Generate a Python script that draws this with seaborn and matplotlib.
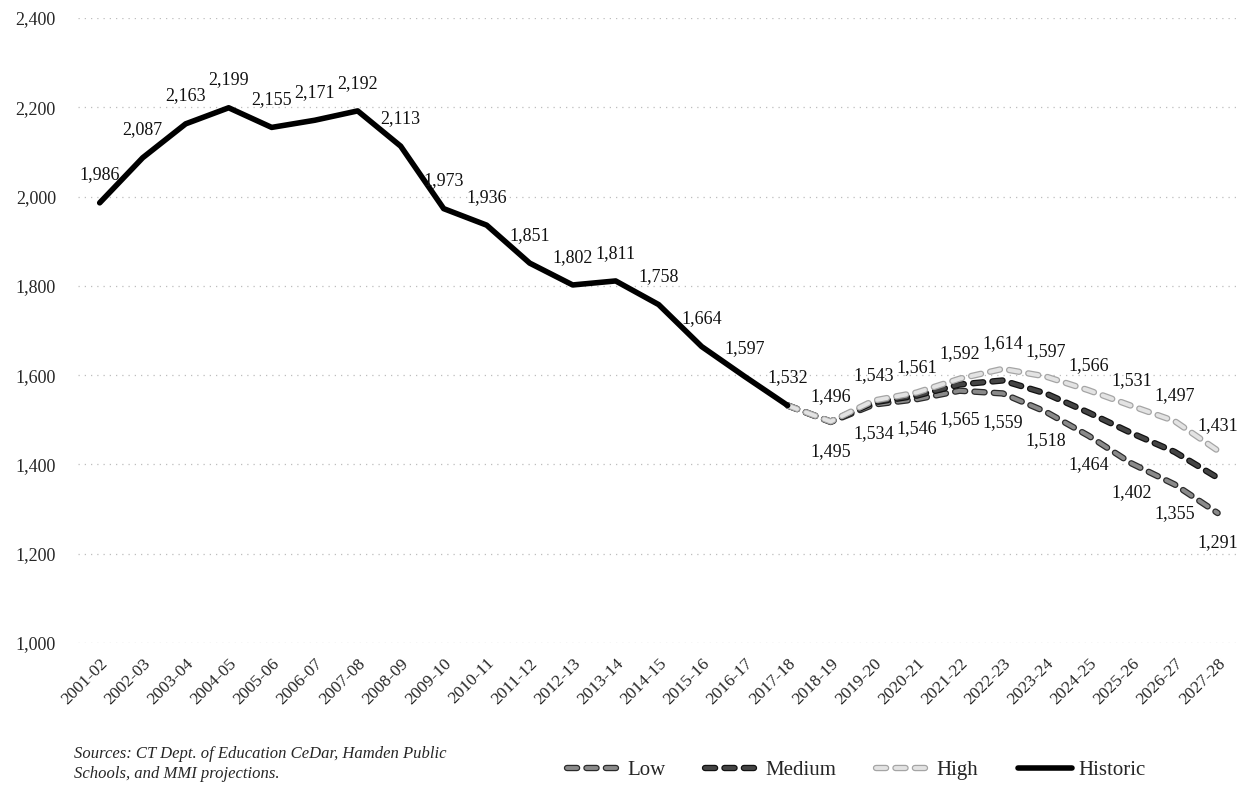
import matplotlib
matplotlib.use("Agg")
import matplotlib.pyplot as plt
import matplotlib.patheffects as pe
import seaborn as sns
import numpy as np
import pandas as pd

# school years on the x axis
years = ["2001-02", "2002-03", "2003-04", "2004-05", "2005-06", "2006-07",
         "2007-08", "2008-09", "2009-10", "2010-11", "2011-12", "2012-13",
         "2013-14", "2014-15", "2015-16", "2016-17", "2017-18", "2018-19",
         "2019-20", "2020-21", "2021-22", "2022-23", "2023-24", "2024-25",
         "2025-26", "2026-27", "2027-28"]

historic = [1986, 2087, 2163, 2199, 2155, 2171, 2192, 2113, 1973, 1936,
            1851, 1802, 1811, 1758, 1664, 1597, 1532]

# projections start from the last historic year (2017-18)
low = [1532, 1495, 1534, 1546, 1565, 1559, 1518, 1464, 1402, 1355, 1291]
medium = [1532, 1496, 1539, 1554, 1579, 1588, 1559, 1516, 1470, 1428, 1370]
high = [1532, 1496, 1543, 1561, 1592, 1614, 1597, 1566, 1531, 1497, 1431]

yticks = [1000, 1200, 1400, 1600, 1800, 2000, 2200, 2400]


def main():
    sns.set_theme(style="white")
    plt.rcParams["font.family"] = ["Liberation Serif", "DejaVu Serif"]

    fig = plt.figure(figsize=(12.41, 7.85), dpi=100)
    ax = fig.add_axes([0.063, 0.181, 0.9355, 0.796])

    hist_df = pd.DataFrame({"x": np.arange(len(historic)), "value": historic})
    start = len(historic) - 1
    proj_x = np.arange(start, start + len(low))

    # dashed projection lines with an outlined "capsule" look
    proj = [("Low", low, "#8a8a8a", "#2b2b2b"),
            ("Medium", medium, "#444444", "#111111"),
            ("High", high, "#e3e3e3", "#a5a5a5")]
    for name, vals, fill, edge in proj:
        df = pd.DataFrame({"x": proj_x, "value": vals})
        sns.lineplot(data=df, x="x", y="value", ax=ax, color=fill,
                     linewidth=2.8, label=name, legend=False,
                     path_effects=[pe.Stroke(linewidth=4.6, foreground=edge),
                                   pe.Normal()])
        ax.lines[-1].set_dashes([2.6, 2.4])
        ax.lines[-1].set_dash_capstyle("round")

    sns.lineplot(data=hist_df, x="x", y="value", ax=ax, color="black",
                 linewidth=4.0, label="Historic", legend=False)
    ax.lines[-1].set_solid_capstyle("round")

    # data labels
    lab_kw = dict(textcoords="offset points", ha="center", va="center",
                  fontsize=13, color="#111111")
    for i, v in enumerate(historic):
        ax.annotate(f"{v:,}", (i, v), xytext=(0, 20), **lab_kw)
    for i, v in zip(proj_x[1:], high[1:]):
        ax.annotate(f"{v:,}", (i, v), xytext=(0, 18), **lab_kw)
    for i, v in zip(proj_x[1:], low[1:]):
        ax.annotate(f"{v:,}", (i, v), xytext=(0, -21), **lab_kw)

    ax.set_xlim(-0.5, 26.5)
    ax.set_ylim(1000, 2400)
    ax.set_yticks(yticks)
    ax.set_yticklabels([f"{t:,}" for t in yticks], fontsize=13)
    ax.set_xticks(np.arange(len(years)))
    ax.set_xticklabels(years, rotation=45, ha="right",
                       rotation_mode="anchor", fontsize=12.5)
    ax.tick_params(axis="y", length=0, pad=16)
    ax.tick_params(axis="x", length=0, pad=9)
    ax.set_xlabel("")
    ax.set_ylabel("")
    ax.grid(axis="y", color="#bdbdbd", linestyle=(0, (1, 4)), linewidth=0.9)
    for s in ax.spines.values():
        s.set_visible(False)

    handles, labels = ax.get_legend_handles_labels()
    fig.legend(handles, labels, loc="center", ncol=4,
               bbox_to_anchor=(0.69, 0.019), frameon=False, fontsize=15,
               handlelength=2.6, columnspacing=1.9, handletextpad=0.3)

    fig.text(0.06, 0.027,
             "Sources: CT Dept. of Education CeDar, Hamden Public\n"
             "Schools, and MMI projections.",
             fontsize=12, style="italic", va="center", ha="left",
             linespacing=1.3)

    fig.savefig("out.png", dpi=100)


if __name__ == "__main__":
    main()
